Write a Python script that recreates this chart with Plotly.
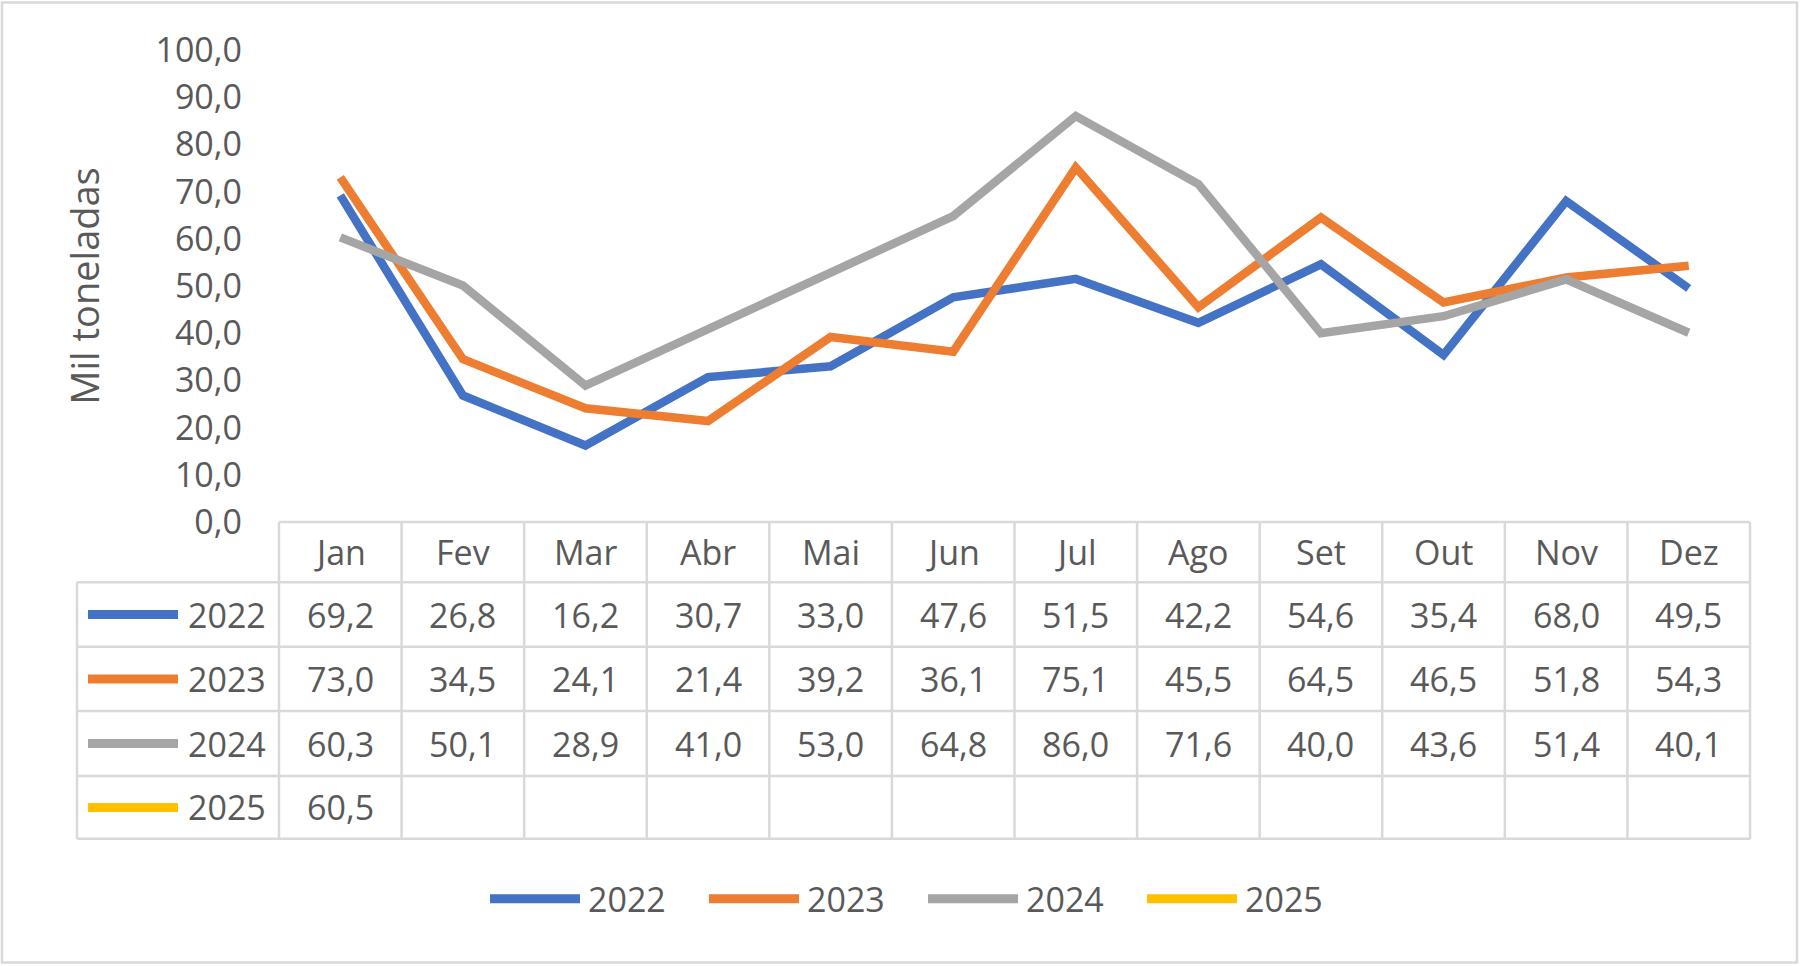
import plotly.graph_objects as go

# ---------------- data ----------------
months = ["Jan", "Fev", "Mar", "Abr", "Mai", "Jun", "Jul", "Ago", "Set", "Out", "Nov", "Dez"]
series_names = ["2022", "2023", "2024", "2025"]
v2022 = [69.2, 26.8, 16.2, 30.7, 33.0, 47.6, 51.5, 42.2, 54.6, 35.4, 68.0, 49.5]
v2023 = [73.0, 34.5, 24.1, 21.4, 39.2, 36.1, 75.1, 45.5, 64.5, 46.5, 51.8, 54.3]
v2024 = [60.3, 50.1, 28.9, 41.0, 53.0, 64.8, 86.0, 71.6, 40.0, 43.6, 51.4, 40.1]
v2025 = [60.5]
y_ticks = [0, 10, 20, 30, 40, 50, 60, 70, 80, 90, 100]
y_title = "Mil toneladas"

# ---------------- style ----------------
colors = ["#4472C4", "#ED7D31", "#A5A5A5", "#FFC000"]
TXT = "#595959"
GRID = "#D9D9D9"
FONT = "Open Sans"
FS = 34

W, H = 1800, 966
L, R, T, B = 279, 1750, 49.5, 522.5          # plot area in px
x_range = [-0.5, 11.5]
row_edges = [522.5, 583, 647.5, 712, 777, 840]  # table rows (px)
legend_col_left = 77


def px2x(p):
    return (p - L) / (R - L)


def py2y(p):
    return (B - p) / (B - T)


def fmt(v):
    return f"{v:.1f}".replace(".", ",")


all_values = [v2022, v2023, v2024, v2025]

fig = go.Figure()
for name, vals, col in zip(series_names, all_values, colors):
    fig.add_trace(go.Scatter(
        x=list(range(len(vals))), y=vals, name=name, mode="lines",
        line=dict(color=col, width=8.5), showlegend=False,
    ))

shapes = []
annotations = []

# outer chart border
shapes.append(dict(type="rect", xref="paper", yref="paper",
                   x0=px2x(2), x1=px2x(1797), y0=py2y(964), y1=py2y(2),
                   line=dict(color=GRID, width=2.5), layer="below"))

# table horizontal lines
shapes.append(dict(type="line", xref="paper", yref="paper",
                   x0=0, x1=1, y0=py2y(row_edges[0]), y1=py2y(row_edges[0]),
                   line=dict(color=GRID, width=2.5)))
for yy in row_edges[1:]:
    shapes.append(dict(type="line", xref="paper", yref="paper",
                       x0=px2x(legend_col_left), x1=1, y0=py2y(yy), y1=py2y(yy),
                       line=dict(color=GRID, width=2.5)))

# table vertical lines at category boundaries
span = x_range[1] - x_range[0]
for k in range(len(months) + 1):
    bx = (k - 0.5 - x_range[0]) / span
    shapes.append(dict(type="line", xref="paper", yref="paper",
                       x0=bx, x1=bx, y0=py2y(row_edges[0]), y1=py2y(row_edges[-1]),
                       line=dict(color=GRID, width=2.5)))
shapes.append(dict(type="line", xref="paper", yref="paper",
                   x0=px2x(legend_col_left), x1=px2x(legend_col_left),
                   y0=py2y(row_edges[1]), y1=py2y(row_edges[-1]),
                   line=dict(color=GRID, width=2.5)))

# header row (months)
hy = py2y((row_edges[0] + row_edges[1]) / 2)
for i, m in enumerate(months):
    annotations.append(dict(x=i, y=hy, xref="x", yref="paper", text=m,
                            showarrow=False, xanchor="center", yanchor="middle",
                            font=dict(size=FS, color=TXT, family=FONT)))

# data rows
for r, (name, vals, col) in enumerate(zip(series_names, all_values, colors)):
    cy = (row_edges[r + 1] + row_edges[r + 2]) / 2
    shapes.append(dict(type="line", xref="paper", yref="paper",
                       x0=px2x(88), x1=px2x(178), y0=py2y(cy), y1=py2y(cy),
                       line=dict(color=col, width=9)))
    annotations.append(dict(x=px2x(268), y=py2y(cy), xref="paper", yref="paper",
                            text=name, showarrow=False, xanchor="right", yanchor="middle",
                            font=dict(size=FS, color=TXT, family=FONT)))
    for i, v in enumerate(vals):
        annotations.append(dict(x=i, y=py2y(cy), xref="x", yref="paper", text=fmt(v),
                                showarrow=False, xanchor="center", yanchor="middle",
                                font=dict(size=FS, color=TXT, family=FONT)))

# bottom legend
leg_y = 900
leg_x0 = 490
pitch = 219
for k, (name, col) in enumerate(zip(series_names, colors)):
    x0 = leg_x0 + k * pitch
    shapes.append(dict(type="line", xref="paper", yref="paper",
                       x0=px2x(x0), x1=px2x(x0 + 90), y0=py2y(leg_y), y1=py2y(leg_y),
                       line=dict(color=col, width=9)))
    annotations.append(dict(x=px2x(x0 + 96), y=py2y(leg_y), xref="paper", yref="paper",
                            text=name, showarrow=False, xanchor="left", yanchor="middle",
                            font=dict(size=FS, color=TXT, family=FONT)))

fig.update_layout(
    width=W, height=H,
    margin=dict(l=L, r=W - R, t=T, b=H - B, autoexpand=False),
    paper_bgcolor="white", plot_bgcolor="white",
    separators=",.",
    font=dict(family=FONT, size=FS, color=TXT),
    showlegend=False,
    shapes=shapes, annotations=annotations,
    xaxis=dict(range=x_range, visible=False, fixedrange=True),
    yaxis=dict(range=[0, 100], tickvals=y_ticks, tickformat=".1f",
               showgrid=False, zeroline=False, showline=False, ticks="",
               ticklabelstandoff=36, fixedrange=True,
               tickfont=dict(size=FS, color=TXT, family=FONT),
               title=dict(text=y_title, standoff=44,
                          font=dict(size=38, color=TXT, family=FONT))),
)

fig.write_html(
    "out.html",
    config={"displayModeBar": False},
    post_script="document.body.style.margin='0';document.body.style.overflow='hidden';",
)
